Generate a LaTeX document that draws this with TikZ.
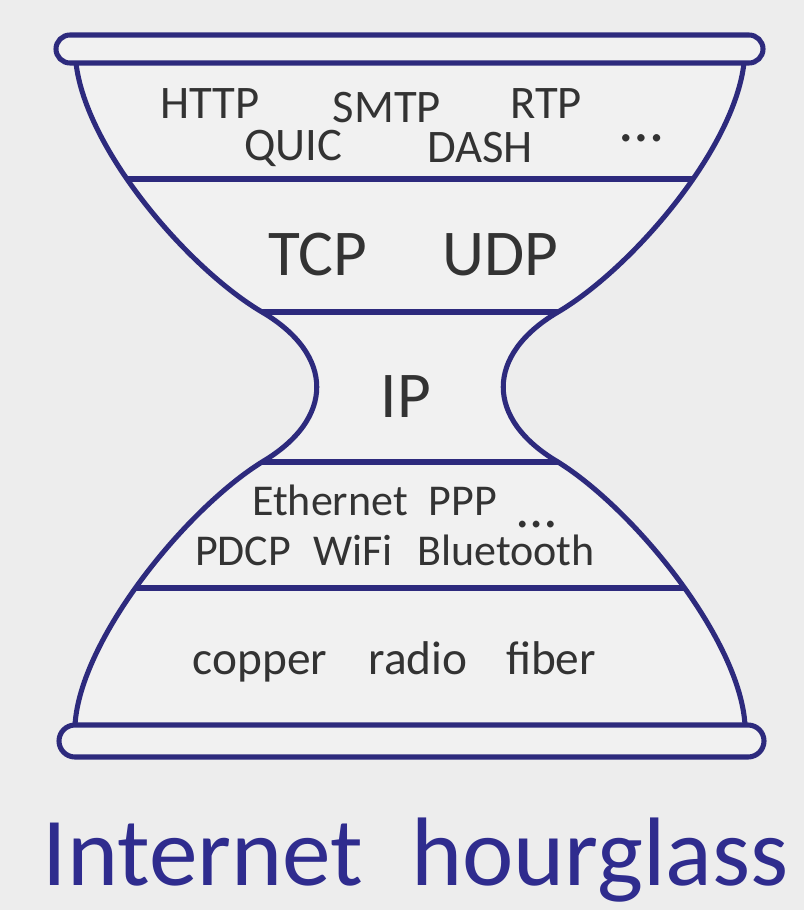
\documentclass[tikz,border=0pt]{standalone}
\usepackage{fontspec}
\setmainfont{Carlito}
\definecolor{navy}{HTML}{2D2A7D}
\definecolor{ink}{HTML}{333333}
\definecolor{bg}{HTML}{EDEDED}
\definecolor{bgin}{HTML}{F1F1F1}
\definecolor{titlec}{HTML}{2F2C8E}
\begin{document}
\begin{tikzpicture}[x=0.75pt,y=-0.75pt,
  outline/.style={draw=navy,line width=3.8pt,line join=round,line cap=round},
  txt/.style={anchor=base,inner sep=0pt,text=ink},
  small/.style={txt,font=\fontsize{35}{35}\selectfont},
  link/.style={txt,font=\fontsize{33}{33}\selectfont},
  dots/.style={txt,font=\fontsize{46}{46}\selectfont},
  phys/.style={txt,font=\fontsize{35.5}{35.5}\selectfont},
  big/.style={txt,font=\fontsize{49}{49}\selectfont},
  title/.style={anchor=base,inner sep=0pt,text=titlec,font=\fontsize{73}{73}\selectfont}]
\useasboundingbox (0,0) rectangle (804,910);
\fill[bg] (0,0) rectangle (804,910);
% body fill
\fill[bgin] (76,63) .. controls (86,150) and (189,269) .. (262,312)
  .. controls (335,355) and (335,419) .. (262,462)
  .. controls (185,510) and (80,640) .. (75,725) -- (745,725)
  .. controls (740,640) and (635,510) .. (558,462)
  .. controls (485,419) and (485,355) .. (558,312)
  .. controls (631,269) and (734,150) .. (744,63) -- cycle;
% dividers clipped to body
\begin{scope}
\clip (76,63) .. controls (86,150) and (189,269) .. (262,312)
  .. controls (335,355) and (335,419) .. (262,462)
  .. controls (185,510) and (80,640) .. (75,725) -- (745,725)
  .. controls (740,640) and (635,510) .. (558,462)
  .. controls (485,419) and (485,355) .. (558,312)
  .. controls (631,269) and (734,150) .. (744,63) -- cycle;
\draw[outline] (0,179) -- (820,179);
\draw[outline] (0,312) -- (820,312);
\draw[outline] (0,462) -- (820,462);
\draw[outline] (0,588) -- (820,588);
\end{scope}
% body outline
\draw[outline] (76,63) .. controls (86,150) and (189,269) .. (262,312)
  .. controls (335,355) and (335,419) .. (262,462)
  .. controls (185,510) and (80,640) .. (75,725);
\draw[outline] (744,63) .. controls (734,150) and (631,269) .. (558,312)
  .. controls (485,355) and (485,419) .. (558,462)
  .. controls (635,510) and (740,640) .. (745,725);
% caps
\draw[outline,fill=bgin,rounded corners=10.5pt] (56,35) rectangle (763,63);
\draw[outline,fill=bgin,rounded corners=12pt] (59,725) rectangle (764,757);
% application layer
\node[small] (http) at (210,118) {HTTP};
\node[small] (smtp) at (387,122) {SMTP};
\node[small] (rtp) at (546,118) {RTP};
\node[small] (quic) at (293,160) {QUIC};
\node[small] (dash) at (480,162) {DASH};
\node[dots] (appmore) at (642,141) {…};
% transport
\node[big] (tcp) at (318,275) {TCP};
\node[big] (udp) at (500,275) {UDP};
% network
\node[big] (ip) at (406,417) {IP};
% link
\node[link] (eth) at (330,515) {Ethernet};
\node[link] (ppp) at (463,515) {PPP};
\node[dots,font=\fontsize{42}{42}\selectfont] (linkmore) at (537,527) {…};
\node[link] (pdcp) at (243,565) {PDCP};
\node[link] (wifi) at (353,565) {WiFi};
\node[link] (bt) at (506,565) {Bluetooth};
% physical
\node[phys] (copper) at (260,674) {copper};
\node[phys] (radio) at (418,674) {radio};
\node[phys] (fiber) at (551,674) {fiber};
% title
\node[title] (t1) at (203,885) {Internet};
\node[title] (t2) at (600,885) {hourglass};
\end{tikzpicture}
\end{document}
